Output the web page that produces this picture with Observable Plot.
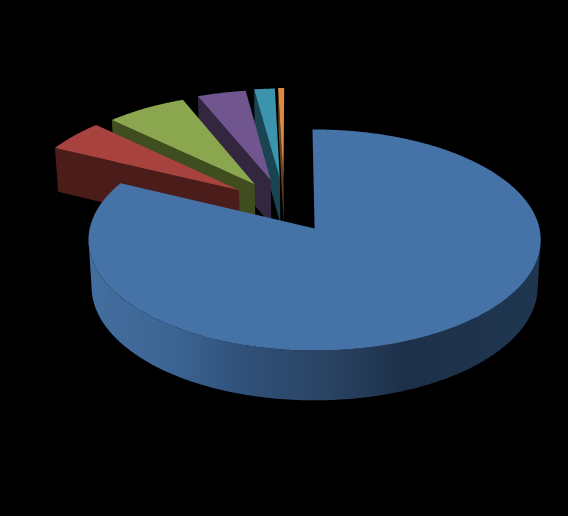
<!DOCTYPE html>
<html>
<head>
<meta charset="utf-8">
<script src="https://cdn.jsdelivr.net/npm/d3@7"></script>
<script src="https://cdn.jsdelivr.net/npm/@observablehq/plot@0.6"></script>
<style>html,body{margin:0;padding:0;background:#000;overflow:hidden}svg{display:block}</style>
</head>
<body>
<div id="chart"></div>
<script>
// Slice shares, clockwise from the top of the pie (percent)
const categories = ["A", "B", "C", "D", "E", "F"];
const values = [82.3, 4.9, 6.6, 4.0, 1.7, 0.5];
const exploded = [false, true, true, true, true, true];
const topColors = ["#4573a8", "#a8423f", "#8aa64f", "#71558f", "#3b93ad", "#d98a3e"];
const sideColors = ["#2a476b", "#4a1c1a", "#3f4d1f", "#33263f", "#1b4452", "#6b4018"];
const wallStops = [[0, "#436e9f"], [0.18, "#3d6594"], [0.34, "#30517a"], [0.52, "#2a4465"], [0.70, "#1d3049"], [1, "#203650"]];

// Pie geometry
const startAngle = -0.6, explodeDist = 0.505, explodeBase = 16;
const tilt = 0.104, depth = 47 / 109.3, depthPersp = 0.0135;
const rad = d => d * Math.PI / 180;

function project(u, v, z) {
  const w = 1 + tilt * v + depthPersp * z;
  return {x: u / w, y: (v - depth * z) / w};
}

const total = d3.sum(values);
const cum = d3.cumsum(values);
const slices = categories.map((c, i) => {
  const a0 = startAngle + (i ? cum[i - 1] : 0) / total * 360;
  const a1 = startAngle + cum[i] / total * 360;
  let ou = 0, ov = 0;
  if (exploded[i]) {
    const mid = 360 - (a0 + a1) / 2;
    const dir = -rad(explodeBase + mid / 2);
    ou = explodeDist * Math.sin(dir);
    ov = explodeDist * Math.cos(dir);
  }
  return {c, i, a0, a1, ou, ov};
});

const polys = [];
let pid = 0;
function add(pts, color) {
  const id = pid++;
  pts.forEach(p => polys.push({...p, id, color}));
}
const rim = (s, a, z) => project(s.ou + Math.sin(rad(a)), s.ov + Math.cos(rad(a)), z);
const hub = (s, z) => project(s.ou, s.ov, z);

// Exploded slices, back to front; each shows the radial wall of its first edge
for (const s of slices.slice(1).reverse()) {
  add([hub(s, 0), rim(s, s.a0, 0), rim(s, s.a0, 1), hub(s, 1)], sideColors[s.i]);
  const top = [hub(s, 0)];
  for (const a of d3.range(s.a0, s.a1, 0.5)) top.push(rim(s, a, 0));
  top.push(rim(s, s.a1, 0));
  add(top, topColors[s.i]);
}

// Main slice: outer wall between its two silhouette tangents, then top face
const blue = slices[0];
const wall = [];
for (let a = 96; a <= 264; a += 1) wall.push(rim(blue, a, 0));
for (let a = 264; a >= 96; a -= 1) wall.push(rim(blue, a, 1));
add(wall, "url(#wall)");
const blueTop = [hub(blue, 0)];
for (const a of d3.range(blue.a0, blue.a1, 0.5)) blueTop.push(rim(blue, a, 0));
blueTop.push(rim(blue, blue.a1, 0));
add(blueTop, topColors[0]);

const defs = () => {
  const ns = "http://www.w3.org/2000/svg";
  const d = document.createElementNS(ns, "defs");
  const g = document.createElementNS(ns, "linearGradient");
  g.setAttribute("id", "wall");
  wallStops.forEach(([o, c]) => {
    const st = document.createElementNS(ns, "stop");
    st.setAttribute("offset", o);
    st.setAttribute("stop-color", c);
    g.append(st);
  });
  d.append(g);
  return d;
};

const chart = Plot.plot({
  width: 568, height: 516,
  margin: 0,
  style: {background: "#000"},
  x: {domain: [-1, 1], range: [89.2, 539], axis: null},
  y: {domain: [-1, 1], range: [337.3, 118.7], axis: null},
  marks: [
    defs,
    Plot.line(polys, {x: "x", y: "y", z: "id", fill: "color", curve: "linear-closed", stroke: null})
  ]
});
document.getElementById("chart").append(chart);
</script>
</body>
</html>
